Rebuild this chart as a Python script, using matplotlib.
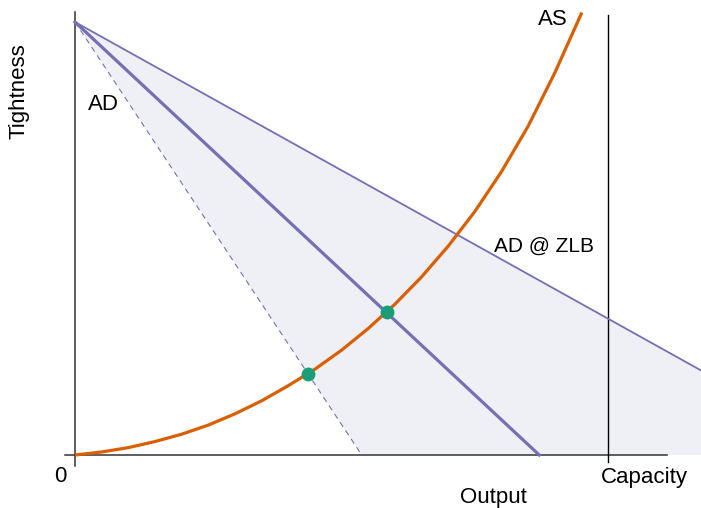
import matplotlib.pyplot as plt

plt.rcParams['font.family'] = ['Liberation Sans', 'DejaVu Sans']

# Curves, in units where capacity = 10 and the AD intercept = 10
ad_x = [0, 8.71]
ad_y = [10, 0]
ad_low_x = [0, 5.38]          # dashed AD
ad_low_y = [10, 0]
ad_zlb_x = [0, 11.75]
ad_zlb_y = [10, 1.95]

as_x = [0, 0.5, 1, 1.5, 2, 2.5, 3, 3.5, 4, 4.5, 5, 5.5, 6, 6.5, 7, 7.5, 8, 8.5, 9, 9.51]
as_y = [0, 0.07, 0.17, 0.31, 0.48, 0.69, 0.95, 1.25, 1.60, 1.98, 2.42, 2.92, 3.48,
        4.11, 4.82, 5.62, 6.54, 7.59, 8.82, 10.22]

eq_x = [4.37, 5.85]
eq_y = [1.88, 3.30]

capacity = 10

purple = '#7570b3'
orange = '#d95f02'
green = '#1b9e77'
axis_col = '#333333'

fig = plt.figure(figsize=(7.01, 5.08), dpi=100)
ax = fig.add_axes([0, 0, 1, 1])
ax.set_xlim(-1.407, 11.745)
ax.set_ylim(-1.224, 10.508)
ax.axis('off')

# shaded area between dashed AD and AD @ ZLB
ax.fill([ad_low_x[0], ad_low_x[1], ad_zlb_x[1], ad_zlb_x[1]],
        [ad_low_y[0], ad_low_y[1], 0, ad_zlb_y[1]],
        color=purple, alpha=0.11, lw=0, zorder=1)

# axes lines
ax.plot([0, 0], [-0.25, 10.23], color=axis_col, lw=1.1, zorder=2)
ax.plot([-0.19, 11.1], [0, 0], color=axis_col, lw=1.1, zorder=2)
ax.plot([capacity, capacity], [-0.16, 10.16], color='black', lw=1.0, zorder=2)

ax.plot(ad_low_x, ad_low_y, color=purple, lw=0.8, dashes=(5, 4), zorder=3)
ax.plot(ad_zlb_x, ad_zlb_y, color=purple, lw=1.3, zorder=3)
ax.plot(ad_x, ad_y, color=purple, lw=2.3, zorder=3)
ax.plot(as_x, as_y, color=orange, lw=2.3, zorder=4, solid_capstyle='butt',
        solid_joinstyle='round')
ax.plot(eq_x, eq_y, 'o', color=green, ms=10, mec='none', zorder=5)

fs = 16
ax.text(0.24, 7.97, 'AD', fontsize=fs, ha='left', va='baseline')
ax.text(9.25, 9.93, 'AS', fontsize=fs, ha='right', va='baseline')
ax.text(7.86, 4.69, 'AD @ ZLB', fontsize=15, ha='left', va='baseline')
ax.text(-0.27, -0.62, '0', fontsize=fs, ha='center', va='baseline')
ax.text(10.69, -0.647, 'Capacity', fontsize=fs, ha='center', va='baseline')
ax.text(7.86, -1.109, 'Output', fontsize=fs, ha='center', va='baseline')
ax.text(-1.05, 8.4, 'Tightness', fontsize=fs, ha='center', va='center', rotation=90)

fig.savefig('out.png', dpi=100)
